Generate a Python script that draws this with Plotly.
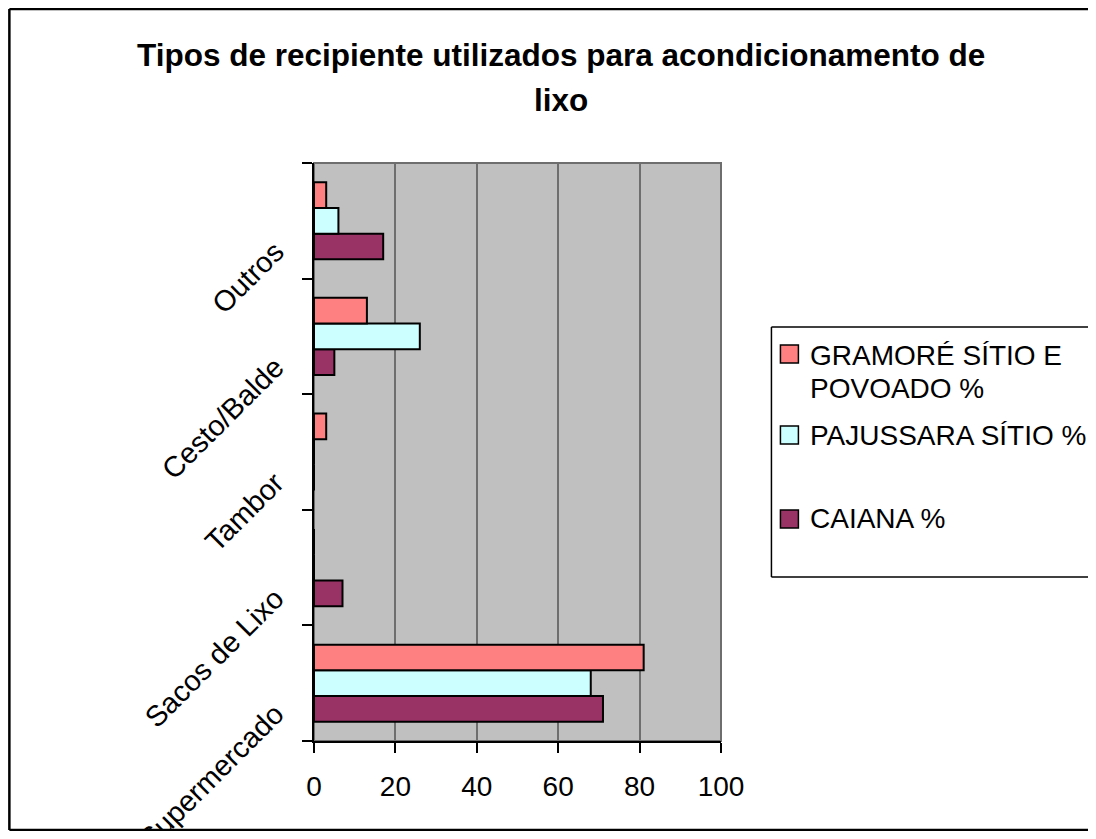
import plotly.graph_objects as go

# ---- data ----
categories = ["Supermercado", "Sacos de Lixo", "Tambor", "Cesto/Balde", "Outros"]
caiana = [71, 7, 0, 5, 17]
pajussara = [68, 0, 0, 26, 6]
gramore = [81, 0, 3, 13, 3]
series_names = ["CAIANA %", "PAJUSSARA SÍTIO %", "GRAMORÉ SÍTIO E POVOADO %"]
series_colors = ["#993366", "#CCFFFF", "#FF8080"]
x_ticks = [0, 20, 40, 60, 80, 100]
title_lines = ["Tipos de recipiente utilizados para acondicionamento de", "lixo"]
legend_lines = [["GRAMORÉ SÍTIO E", "POVOADO %"], ["PAJUSSARA SÍTIO %"], ["CAIANA %"]]
legend_colors = ["#FF8080", "#CCFFFF", "#993366"]

FONT = "Liberation Sans, Arial, sans-serif"

# page-pixel geometry (body margin of 8px)
OFF = 8
W, H = 1088, 823
PL, PR, PT, PB = 314, 721.5, 163, 741


def px(X):
    return (X - PL) / (PR - PL)


def py(Y):
    return (PB - Y) / (PB - PT)


fig = go.Figure()
for name, vals, col in zip(series_names, [caiana, pajussara, gramore], series_colors):
    fig.add_trace(go.Bar(
        y=categories, x=vals, name=name, orientation="h",
        marker=dict(color=col, line=dict(color="black", width=2)),
        showlegend=False,
    ))

shapes = []
# plot area frame (gray)
shapes.append(dict(type="rect", xref="paper", yref="paper", x0=0, x1=1, y0=0, y1=1,
                   line=dict(color="#6e6e6e", width=2), layer="below"))
# outer chart border (left, top, bottom)
bx0, by0, by1 = 9, 9, 830
RIGHT = 1100
shapes.append(dict(type="line", xref="paper", yref="paper", x0=px(bx0), x1=px(bx0),
                   y0=py(by0), y1=py(by1), line=dict(color="black", width=2.5)))
shapes.append(dict(type="line", xref="paper", yref="paper", x0=px(bx0), x1=px(RIGHT),
                   y0=py(by0), y1=py(by0), line=dict(color="black", width=2.5)))
shapes.append(dict(type="line", xref="paper", yref="paper", x0=px(bx0), x1=px(RIGHT),
                   y0=py(by1), y1=py(by1), line=dict(color="black", width=2.5)))
# legend box (open on the right, running off the edge)
for yy in (327, 577):
    shapes.append(dict(type="line", xref="paper", yref="paper", x0=px(772), x1=px(RIGHT),
                       y0=py(yy), y1=py(yy), line=dict(color="black", width=1.5)))
shapes.append(dict(type="line", xref="paper", yref="paper", x0=px(772), x1=px(772),
                   y0=py(327), y1=py(577), line=dict(color="black", width=1.5)))

annotations = []
# title
annotations.append(dict(text="<b>" + title_lines[0] + "</b>", xref="paper", yref="paper",
                        x=px(561), y=py(55), xanchor="center", yanchor="middle",
                        showarrow=False, font=dict(family=FONT, size=31.5, color="black")))
annotations.append(dict(text="<b>" + title_lines[1] + "</b>", xref="paper", yref="paper",
                        x=px(561), y=py(100), xanchor="center", yanchor="middle",
                        showarrow=False, font=dict(family=FONT, size=31.5, color="black")))

# legend entries
item_rows = [[355, 388], [435], [518]]
swatch_centers = [354, 435, 519]
for lines, col, rows, sc in zip(legend_lines, legend_colors, item_rows, swatch_centers):
    shapes.append(dict(type="rect", xref="paper", yref="paper", x0=px(781), x1=px(799),
                       y0=py(sc - 9), y1=py(sc + 9), fillcolor=col,
                       line=dict(color="black", width=1.5)))
    for txt, yy in zip(lines, rows):
        annotations.append(dict(text=txt, xref="paper", yref="paper", x=px(809), y=py(yy),
                                xanchor="left", yanchor="middle", showarrow=False,
                                font=dict(family=FONT, size=28, color="black")))

fig.update_layout(
    width=W, height=H,
    margin=dict(l=PL - OFF, r=W - (PR - OFF), t=PT - OFF, b=H - (PB - OFF), pad=0,
                autoexpand=False),
    paper_bgcolor="white", plot_bgcolor="#C0C0C0",
    barmode="group", bargap=0.333, bargroupgap=0,
    font=dict(family=FONT, size=28, color="black"),
    shapes=shapes, annotations=annotations,
    showlegend=False,
)
fig.update_xaxes(range=[0, 100], tickvals=x_ticks, ticktext=[str(v) for v in x_ticks],
                 automargin=False,
                 showgrid=True, gridcolor="#6e6e6e", gridwidth=2,
                 showline=True, linecolor="black", linewidth=1.5,
                 ticks="outside", ticklen=10, tickcolor="black", tickwidth=1.5,
                 ticklabelstandoff=10, zeroline=False,
                 tickfont=dict(family=FONT, size=28, color="black"))
fig.update_yaxes(categoryorder="array", categoryarray=categories,
                 automargin=False,
                 showline=True, linecolor="black", linewidth=1.5,
                 ticks="outside", ticklen=10, tickcolor="black", tickwidth=1.5,
                 tickson="boundaries", tickangle=-45, showgrid=False,
                 ticklabelshift=27, ticklabelstandoff=31,
                 tickfont=dict(family=FONT, size=29, color="black"))

fig.write_html("out.html")
